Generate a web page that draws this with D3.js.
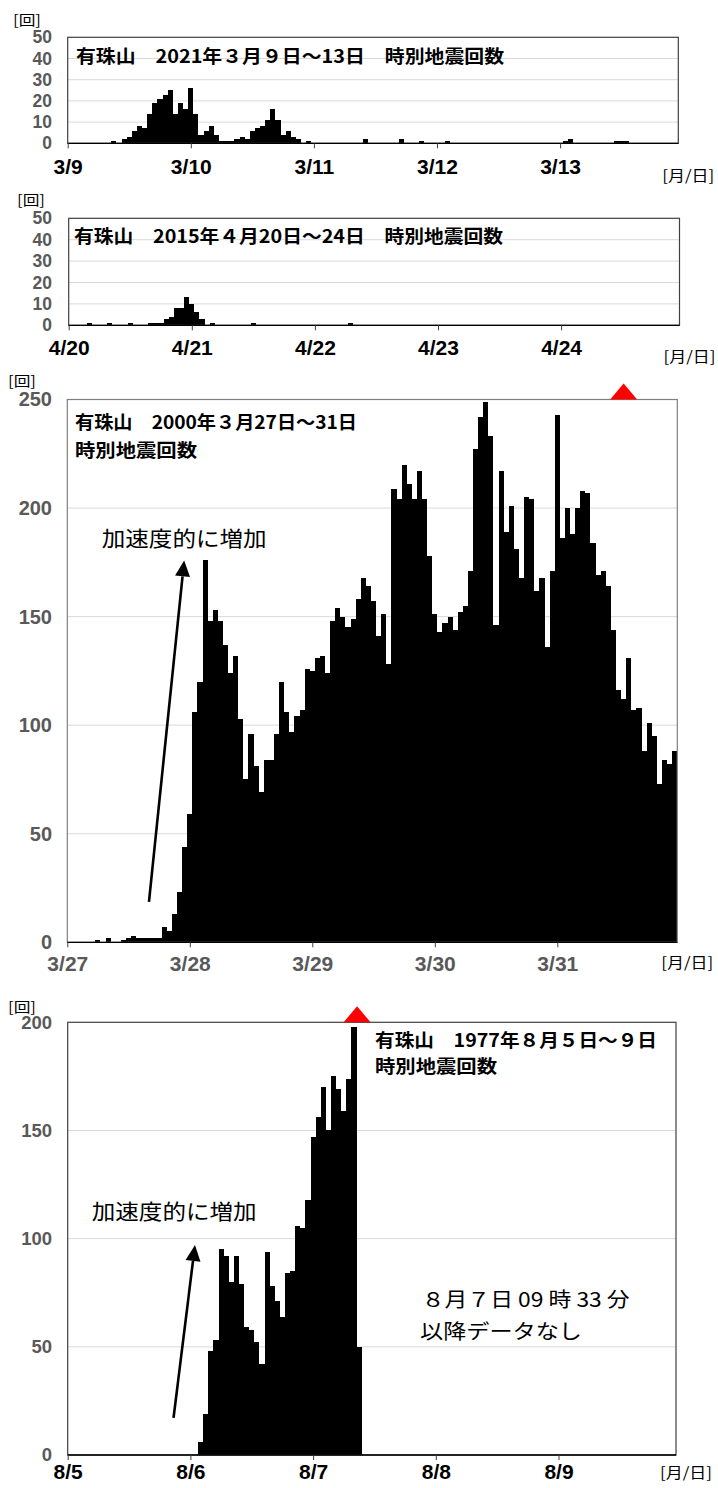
<!DOCTYPE html>
<html>
<head>
<meta charset="utf-8">
<script src="https://cdn.jsdelivr.net/npm/d3@7"></script>
<style>
body { margin: 0; background: #fff; }
svg { display: block; }
</style>
</head>
<body>
<svg id="chart" width="718" height="1488"></svg>
<script>
// hourly counts, index = hours since 00h of the first day

// 2021/3/9 - 13 (only non-zero hours)
var hours2021 = [9, 11, 12, 13, 14, 15, 16, 17, 18, 19, 20, 21, 22, 23, 24, 25, 26, 27, 28, 29,
    30, 31, 32, 33, 34, 35, 36, 37, 38, 39, 40, 41, 42, 43, 44, 45, 47, 58, 65, 69, 74, 97, 98, 107, 108, 109];
var counts2021 = [1, 2, 3, 6, 8, 7, 14, 19, 21, 23, 25, 14, 19, 16, 26, 14, 4, 6, 8, 4,
    1, 1, 1, 2, 3, 2, 6, 7, 8, 11, 16, 11, 4, 6, 3, 2, 1, 2, 2, 1, 1, 1, 2, 1, 1, 1];

// 2015/4/20 - 24 (only non-zero hours)
var hours2015 = [4, 8, 12, 16, 17, 18, 19, 20, 21, 22, 23, 24, 25, 26, 28, 36, 55];
var counts2015 = [1, 1, 1, 1, 1, 1, 3, 4, 8, 8, 13, 10, 6, 3, 1, 1, 1];

// 2000/3/27 - 31, every hour
var counts2000 = [
    0, 0, 0, 0, 0, 0, 1, 0, 2, 0, 0, 1, 2, 3, 2, 2, 2, 2, 2, 7, 5, 13, 23, 44,
    59, 106, 120, 176, 148, 153, 148, 137, 124, 132, 103, 75, 96, 81, 69, 84, 84, 96, 120, 106, 97, 104, 107, 126,
    125, 131, 132, 124, 148, 154, 150, 145, 149, 158, 168, 164, 157, 141, 151, 128, 209, 204, 220, 211, 204, 217, 204, 178,
    151, 143, 147, 150, 144, 152, 155, 171, 227, 242, 249, 233, 146, 217, 189, 201, 181, 168, 205, 204, 162, 168, 136, 171,
    243, 186, 200, 188, 200, 208, 207, 184, 169, 171, 164, 144, 116, 112, 131, 107, 108, 88, 101, 95, 73, 84, 82, 88
];

// 1977/8/5 - 9, data until 8/7 09h
var counts1977 = [
    0, 0, 0, 0, 0, 0, 0, 0, 0, 0, 0, 0, 0, 0, 0, 0, 0, 0, 0, 0, 0, 0, 0, 0,
    0, 0, 6, 19, 48, 53, 95, 92, 80, 92, 79, 59, 58, 52, 42, 94, 78, 71, 64, 84, 85, 106, 105, 118,
    147, 156, 170, 150, 175, 169, 159, 174, 198, 50
];

var days2021 = ["3/9", "3/10", "3/11", "3/12", "3/13"];
var days2015 = ["4/20", "4/21", "4/22", "4/23", "4/24"];
var days2000 = ["3/27", "3/28", "3/29", "3/30", "3/31"];
var days1977 = ["8/5", "8/6", "8/7", "8/8", "8/9"];
var dayHours = [0, 24, 48, 72, 96];

var yTicks50 = [0, 10, 20, 30, 40, 50];
var yTicks250 = [0, 50, 100, 150, 200, 250];
var yTicks200 = [0, 50, 100, 150, 200];

var jp = '"Noto Sans CJK JP", "Noto Sans", sans-serif';
var num = '"Liberation Sans", Arial, sans-serif';
var svg = d3.select('#chart');

function toBars(hours, counts) {
    return hours.map(function (h, i) { return {h: h, v: counts[i]}; });
}
function allBars(counts) {
    return counts.map(function (v, i) { return {h: i, v: v}; });
}

function drawPanel(p) {
    var x = d3.scaleLinear().domain([0, 96]).range([p.left, p.left + 4 * p.dayW]);
    var y = d3.scaleLinear().domain([0, p.yMax]).range([p.bottom, p.top]);
    var g = svg.append("g");

    // grid lines
    g.selectAll(".grid")
        .data(p.yTicks.slice(1, -1))
        .enter()
        .append("line")
        .attr("x1", p.left).attr("x2", p.right)
        .attr("y1", function (d) { return y(d); })
        .attr("y2", function (d) { return y(d); })
        .attr("stroke", "#d9d9d9")
        .attr("stroke-width", 1);

    // bars (crisp edges so neighbours join without seams)
    g.selectAll(".bar")
        .data(p.data.filter(function (d) { return d.v > 0; }))
        .enter()
        .append("rect")
        .attr("x", function (d) { return x(d.h - 0.5); })
        .attr("width", function (d) { return x(d.h + 0.5) - x(d.h - 0.5); })
        .attr("y", function (d) { return y(d.v); })
        .attr("height", function (d) { return y(0) - y(d.v); })
        .attr("fill", "#000")
        .attr("shape-rendering", "crispEdges");

    // frame
    g.append("rect")
        .attr("x", p.left).attr("y", p.top)
        .attr("width", p.right - p.left).attr("height", p.bottom - p.top)
        .attr("fill", "none")
        .attr("stroke", p.frame)
        .attr("stroke-width", 1.2);

    // y axis labels
    var yAxis = g.append("g")
        .attr("transform", "translate(" + p.left + ",0)")
        .call(d3.axisLeft(y).tickValues(p.yTicks).tickSize(0).tickPadding(p.left - 52));
    yAxis.select(".domain").remove();
    yAxis.selectAll("text")
        .attr("font-family", num)
        .attr("font-weight", "bold")
        .attr("font-size", p.yFont)
        .attr("fill", "#595959");

    // x axis
    var xAxis = g.append("g")
        .attr("transform", "translate(0," + p.bottom + ")")
        .call(d3.axisBottom(x).tickValues(dayHours)
            .tickFormat(function (d, i) { return p.days[i]; })
            .tickSize(5).tickPadding(p.xPad));
    xAxis.select(".domain")
        .attr("d", "M" + p.left + ",0H" + p.right)
        .attr("stroke", "#000")
        .attr("stroke-width", 1.3);
    xAxis.selectAll(".tick line").attr("stroke", "#404040");
    xAxis.selectAll("text")
        .attr("font-family", num)
        .attr("font-weight", "bold")
        .attr("font-size", 21)
        .attr("fill", p.xColor);

    // unit labels
    g.append("text")
        .attr("x", p.unitX).attr("y", p.unitY)
        .attr("font-family", jp).attr("font-size", 14)
        .attr("textLength", 28).attr("lengthAdjust", "spacingAndGlyphs")
        .text("[回]");
    g.append("text")
        .attr("x", p.right - 16).attr("y", p.bottom + p.dateUnitDy)
        .attr("font-family", jp).attr("font-size", 15)
        .attr("textLength", 52).attr("lengthAdjust", "spacingAndGlyphs")
        .text("[月/日]");

    // title
    p.title.forEach(function (t) {
        g.append("text")
            .attr("x", t.x).attr("y", t.y)
            .attr("font-family", jp).attr("font-weight", "bold").attr("font-size", 18)
            .attr("textLength", t.w).attr("lengthAdjust", "spacingAndGlyphs")
            .text(t.text);
    });

    return {x: x, y: y, g: g};
}

function drawArrow(g, x0, y0, x1, y1) {
    var dx = x1 - x0, dy = y1 - y0, len = Math.sqrt(dx * dx + dy * dy);
    var ux = dx / len, uy = dy / len, hl = 16, hw = 7.5;
    var bx = x1 - ux * hl, by = y1 - uy * hl;
    g.append("line")
        .attr("x1", x0).attr("y1", y0).attr("x2", bx).attr("y2", by)
        .attr("stroke", "#000").attr("stroke-width", 2.6);
    g.append("path")
        .attr("d", "M" + x1 + "," + y1 + "L" + (bx - uy * hw) + "," + (by + ux * hw) +
            "L" + (bx + uy * hw) + "," + (by - ux * hw) + "Z")
        .attr("fill", "#000");
}

function drawEruption(g, x, y0) {
    g.append("path")
        .attr("d", "M" + (x - 13.5) + "," + y0 + "L" + x + "," + (y0 - 16) + "L" + (x + 13.5) + "," + y0 + "Z")
        .attr("fill", "#ff0000");
}

// 2021
drawPanel({
    left: 67.7, right: 678.3, top: 37.3, bottom: 143.3, dayW: 123.1,
    yMax: 50, yTicks: yTicks50, yFont: 17.5, xPad: 10.8, xColor: "#000",
    frame: "#404040", days: days2021, data: toBars(hours2021, counts2021),
    unitX: 13, unitY: 25, dateUnitDy: 38,
    title: [{x: 76, y: 63, w: 428, text: "有珠山　2021年３月９日～13日　時別地震回数"}]
});

// 2015
drawPanel({
    left: 68.7, right: 679.5, top: 218.3, bottom: 325.3, dayW: 123.1,
    yMax: 50, yTicks: yTicks50, yFont: 17.5, xPad: 9.8, xColor: "#000",
    frame: "#404040", days: days2015, data: toBars(hours2015, counts2015),
    unitX: 17, unitY: 205, dateUnitDy: 37,
    title: [{x: 74, y: 243, w: 429, text: "有珠山　2015年４月20日～24日　時別地震回数"}]
});

// 2000
var p2000 = drawPanel({
    left: 67.3, right: 677.3, top: 399.5, bottom: 942.3, dayW: 122.5,
    yMax: 250, yTicks: yTicks250, yFont: 20, xPad: 8.8, xColor: "#595959",
    frame: "#7f7f7f", days: days2000, data: allBars(counts2000),
    unitX: 8, unitY: 386, dateUnitDy: 26,
    title: [{x: 75, y: 429, w: 282, text: "有珠山　2000年３月27日～31日"},
        {x: 75, y: 457, w: 122, text: "時別地震回数"}]
});
drawArrow(p2000.g, p2000.x(16), p2000.y(18.6), p2000.x(22.9), p2000.y(175.9));
drawEruption(p2000.g, p2000.x(109), p2000.y(250));
p2000.g.append("text")
    .attr("x", 101.7).attr("y", 546)
    .attr("font-family", jp).attr("font-size", 21)
    .attr("textLength", 165).attr("lengthAdjust", "spacingAndGlyphs")
    .text("加速度的に増加");

// 1977
var p1977 = drawPanel({
    left: 67.7, right: 676, top: 1022.3, bottom: 1455, dayW: 122.7,
    yMax: 200, yTicks: yTicks200, yFont: 18.5, xPad: 4.1, xColor: "#000",
    frame: "#404040", days: days1977, data: allBars(counts1977),
    unitX: 8, unitY: 1012, dateUnitDy: 23,
    title: [{x: 375, y: 1047, w: 282, text: "有珠山　1977年８月５日～９日"},
        {x: 375, y: 1073, w: 122, text: "時別地震回数"}]
});
drawArrow(p1977.g, p1977.x(20.7), p1977.y(17.2), p1977.x(24.9), p1977.y(97.1));
drawEruption(p1977.g, p1977.x(56.6), p1977.y(200));
p1977.g.append("text")
    .attr("x", 91.7).attr("y", 1219)
    .attr("font-family", jp).attr("font-size", 21)
    .attr("textLength", 165).attr("lengthAdjust", "spacingAndGlyphs")
    .text("加速度的に増加");
p1977.g.append("text")
    .attr("x", 421.7).attr("y", 1307)
    .attr("font-family", jp).attr("font-size", 20)
    .attr("textLength", 208).attr("lengthAdjust", "spacingAndGlyphs")
    .text("８月７日 09 時 33 分");
p1977.g.append("text")
    .attr("x", 420).attr("y", 1338.5)
    .attr("font-family", jp).attr("font-size", 20)
    .attr("textLength", 162).attr("lengthAdjust", "spacingAndGlyphs")
    .text("以降データなし");
</script>
</body>
</html>
